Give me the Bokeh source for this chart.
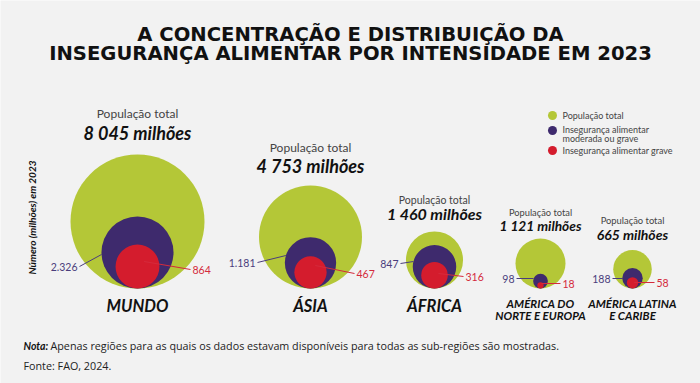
import numpy as np
from bokeh.plotting import figure
from bokeh.models import Range1d, ColumnDataSource
from bokeh.core.properties import value
from bokeh.embed import file_html
from bokeh.resources import INLINE

# ---------------- data ----------------
region_line1 = ["MUNDO", "ÁSIA", "ÁFRICA", "AMÉRICA DO", "AMÉRICA LATINA"]
region_line2 = ["", "", "", "NORTE E EUROPA", "E CARIBE"]
total = [8045, 4753, 1460, 1121, 665]
moderate_severe = [2326, 1181, 847, 98, 188]
severe = [864, 467, 316, 18, 58]
total_labels = ["8 045 milhões", "4 753 milhões", "1 460 milhões", "1 121 milhões", "665 milhões"]
ms_labels = ["2.326", "1.181", "847", "98", "188"]
sev_labels = ["864", "467", "316", "18", "58"]
legend_labels = ["População total", "Insegurança alimentar", "moderada ou grave", "Insegurança alimentar grave"]

# ---------------- layout / style ----------------
W, H = 700, 383
BG = "#f2f2f2"
GREEN = "#b4c737"
PURPLE = "#3e2a6d"
RED = "#d41c2d"
PURPLE_TXT = "#4a3d7c"
RED_TXT = "#d42a3c"
GREY_TXT = "#444444"
FONT = "Lato"

cx = np.array([137, 310, 434, 540, 632], dtype=float)
base = 288.0
k = 67.0 / np.sqrt(8045.0)

r_t = k * np.sqrt(np.array(total, float))
r_m = k * np.sqrt(np.array(moderate_severe, float))
r_s = k * np.sqrt(np.array(severe, float))
cy_t = base - r_t
cy_m = base - r_m
cy_s = base - r_s

pop_y = [113, 147, 199, 212, 220]
tot_y = [132, 165, 213, 225, 234]
pop_fs = ["12px", "12px", "10.5px", "9.3px", "9.4px"]
tot_fs = ["18px", "18px", "16px", "13.7px", "14px"]
name_fs = ["16.5px", "16.5px", "16.5px", "11.5px", "11.5px"]
name_y1 = [305, 305, 305, 303, 303]
name_y2 = [305, 305, 305, 315, 315]

ms_lx = np.array([77, 255, 398, 514, 610], float)
ms_ly = np.array([266, 262, 263, 278, 278], float)
ms_ey = np.array([254, 255, 261, 278, 278], float)
sev_lx = np.array([192, 356, 465, 562, 656], float)
sev_ly = np.array([269, 273, 276, 283, 282], float)
sev_sy = np.array([261, 265, 273, 283, 282], float)

p = figure(width=W, height=H, output_backend="svg", toolbar_location=None,
           x_range=Range1d(0, W), y_range=Range1d(H, 0),
           min_border=0, outline_line_color=None)
p.axis.visible = False
p.grid.visible = False
p.background_fill_color = BG
p.border_fill_color = BG

# circles
p.circle(x=cx, y=cy_t, radius=r_t, fill_color=GREEN, line_color=None)
p.circle(x=cx, y=cy_m, radius=r_m, fill_color=PURPLE, line_color=None)

# purple leaders
ex = cx - np.sqrt(np.maximum(r_m ** 2 - (ms_ey - cy_m) ** 2, 0))
p.segment(x0=ms_lx + 2, y0=ms_ly, x1=ex, y1=ms_ey, line_color=PURPLE_TXT, line_width=1)

p.circle(x=cx, y=cy_s, radius=r_s, fill_color=RED, line_color=None)

# red leaders
sx = cx + 0.3 * r_s
p.segment(x0=sx, y0=sev_sy, x1=sev_lx - 2, y1=sev_ly, line_color=RED_TXT, line_width=1)

f = value(FONT)

# value labels
p.text(x=ms_lx, y=ms_ly, text=ms_labels, text_font=f, text_font_size="10.5px",
       text_color=PURPLE_TXT, text_align="right", text_baseline="middle")
p.text(x=sev_lx, y=sev_ly, text=sev_labels, text_font=f, text_font_size="10.5px",
       text_color=RED_TXT, text_align="left", text_baseline="middle")

# top labels
src_top = ColumnDataSource(dict(x=cx, yp=pop_y, yt=tot_y,
                                pop=["População total"] * 5, tot=total_labels,
                                pfs=pop_fs, tfs=tot_fs))
p.text(x="x", y="yp", text="pop", source=src_top, text_font=f, text_font_size="pfs",
       text_color=GREY_TXT, text_align="center", text_baseline="middle")
p.text(x="x", y="yt", text="tot", source=src_top, text_font=f, text_font_size="tfs",
       text_font_style="bold italic", text_color="#111111", text_align="center",
       text_baseline="middle")

# region names
src_nm = ColumnDataSource(dict(x=cx, y1=name_y1, y2=name_y2, n1=region_line1,
                               n2=region_line2, fs=name_fs))
p.text(x="x", y="y1", text="n1", source=src_nm, text_font=f, text_font_size="fs",
       text_font_style="bold italic", text_color="#111111", text_align="center",
       text_baseline="middle")
p.text(x="x", y="y2", text="n2", source=src_nm, text_font=f, text_font_size="fs",
       text_font_style="bold italic", text_color="#111111", text_align="center",
       text_baseline="middle")

# title
p.text(x=[350, 350], y=[33.5, 53],
       text=["A CONCENTRAÇÃO E DISTRIBUIÇÃO DA",
             "INSEGURANÇA ALIMENTAR POR INTENSIDADE EM 2023"],
       text_font=value("DejaVu Sans"), text_font_size="19.6px", text_font_style="bold",
       text_color="#111111", text_align="center", text_baseline="middle")

# rotated axis label
p.text(x=[31], y=[217], text=["Número (milhões) em 2023"], angle=np.pi / 2,
       text_font=f, text_font_size="10px", text_font_style="bold italic",
       text_color="#111111", text_align="center", text_baseline="middle")

# legend
p.scatter(x=[552, 552, 552], y=[115, 130, 150], size=9,
          fill_color=[GREEN, PURPLE, RED], line_color=None)
p.text(x=[562, 562, 562, 562], y=[115, 129, 138, 150], text=legend_labels,
       text_font=f, text_font_size="9px", text_color=GREY_TXT,
       text_align="left", text_baseline="middle")

# footer
p.text(x=[23], y=[345], text=["Nota:"], text_font=f, text_font_size="10.5px",
       text_font_style="bold italic", text_color="#111111", text_baseline="middle")
p.text(x=[50], y=[345],
       text=["Apenas regiões para as quais os dados estavam disponíveis para todas as sub-regiões são mostradas."],
       text_font=value("Open Sans"), text_font_size="10.75px", text_color="#222222",
       text_baseline="middle")
p.text(x=[23], y=[365], text=["Fonte: FAO, 2024."], text_font=value("Open Sans"),
       text_font_size="10.75px", text_color="#222222", text_baseline="middle")

html = file_html(p, INLINE)
html = html.replace("<body>", '<body style="background:#f2f2f2">', 1)
open("out.html", "w").write(html)
